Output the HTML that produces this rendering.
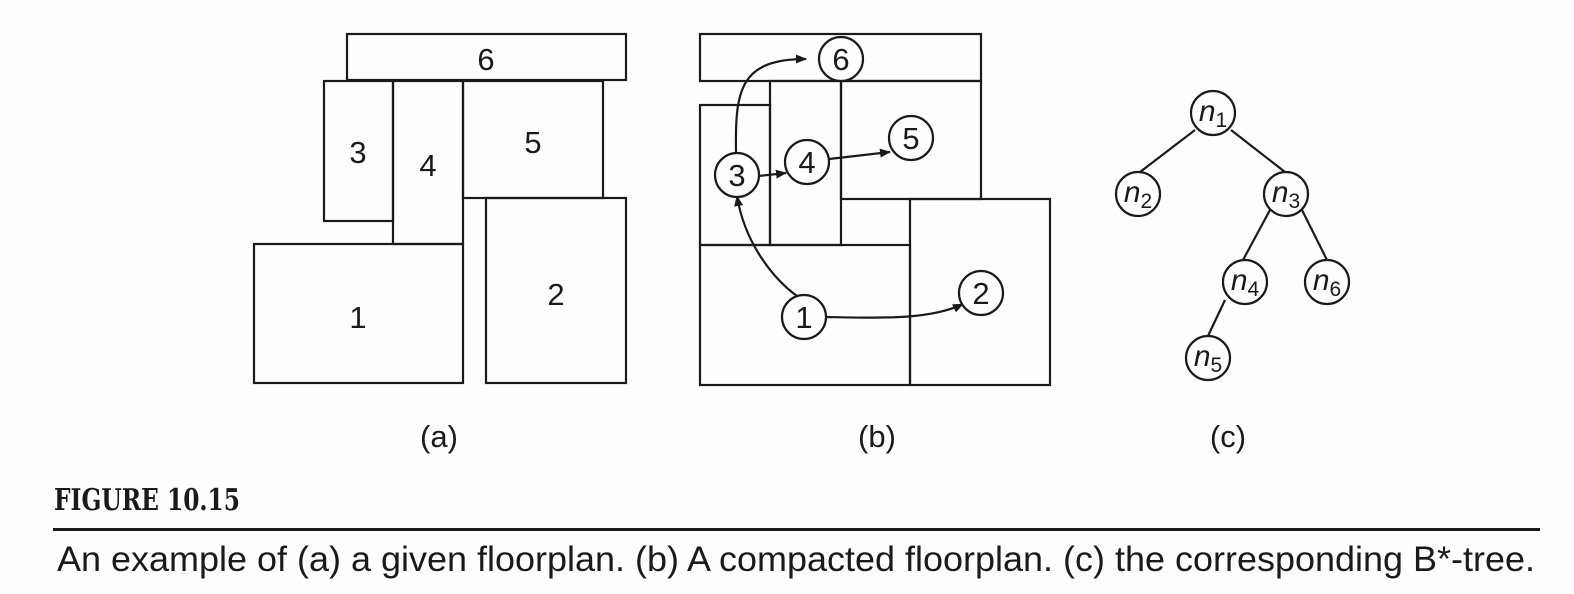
<!DOCTYPE html>
<html><head><meta charset="utf-8"><style>
html,body{margin:0;padding:0;background:#fefefe;}
svg{display:block;}
</style></head><body>
<svg width="1574" height="594" viewBox="0 0 1574 594" xmlns="http://www.w3.org/2000/svg">
<defs><marker id="ar" markerWidth="11" markerHeight="9" refX="10" refY="4.5" orient="auto" markerUnits="userSpaceOnUse"><path d="M0,0 L11,4.5 L0,9 z" fill="#1a1a1a"/></marker></defs>
<g fill="none" stroke="#1a1a1a" stroke-width="2.2">
<rect x="347" y="34" width="279" height="46"/>
<rect x="324" y="81" width="69" height="140"/>
<rect x="393" y="81" width="70" height="163"/>
<rect x="463" y="81" width="140" height="117"/>
<rect x="254" y="244" width="209" height="139"/>
<rect x="486" y="198" width="140" height="185"/>
<rect x="700" y="34" width="281" height="47"/>
<rect x="700" y="105" width="70" height="140"/>
<rect x="770" y="81" width="71" height="164"/>
<rect x="841" y="81" width="140" height="118"/>
<rect x="700" y="245" width="210" height="140"/>
<rect x="910" y="199" width="140" height="186"/>
<path d="M736,152 C735,90 740,59 806,59" marker-end="url(#ar)"/>
<path d="M759,176 L786,173" marker-end="url(#ar)"/>
<path d="M829,159 L890,152" marker-end="url(#ar)"/>
<path d="M797,296 C775,280 745,245 737,196" marker-end="url(#ar)"/>
<path d="M826,317 C880,318 930,320 963,304" marker-end="url(#ar)"/>
<path d="M1195,130 L1140,172"/>
<path d="M1231,130 L1285,172"/>
<path d="M1270,210 L1243,260"/>
<path d="M1302,210 L1327,260"/>
<path d="M1225,300 L1208,336"/>
</g>
<g fill="#fefefe" stroke="#1a1a1a" stroke-width="2.2">
<circle cx="841" cy="59" r="22"/>
<circle cx="737" cy="175" r="22"/>
<circle cx="807" cy="162" r="22"/>
<circle cx="911" cy="138" r="22"/>
<circle cx="804" cy="317" r="22"/>
<circle cx="981" cy="293" r="22"/>
<circle cx="1213" cy="113" r="22"/>
<circle cx="1138" cy="194" r="22"/>
<circle cx="1286" cy="194" r="22"/>
<circle cx="1245" cy="282" r="22"/>
<circle cx="1327" cy="282" r="22"/>
<circle cx="1208" cy="358" r="22"/>
</g>
<g font-family="Liberation Sans, sans-serif" font-size="31" fill="#1a1a1a" text-anchor="middle">
<text x="486" y="70">6</text>
<text x="358" y="163">3</text>
<text x="428" y="176">4</text>
<text x="533" y="153">5</text>
<text x="358" y="328">1</text>
<text x="556" y="305">2</text>
<text x="841" y="70">6</text>
<text x="737" y="186">3</text>
<text x="807" y="173">4</text>
<text x="911" y="149">5</text>
<text x="804" y="328">1</text>
<text x="981" y="304">2</text>
<text x="439" y="447">(a)</text>
<text x="877" y="447">(b)</text>
<text x="1228" y="447">(c)</text>
</g>
<g font-family="Liberation Sans, sans-serif" fill="#1a1a1a" font-size="30">
<text x="1213" y="121" text-anchor="middle"><tspan font-style="italic">n</tspan><tspan font-size="21" dy="6">1</tspan></text>
<text x="1138" y="202" text-anchor="middle"><tspan font-style="italic">n</tspan><tspan font-size="21" dy="6">2</tspan></text>
<text x="1286" y="202" text-anchor="middle"><tspan font-style="italic">n</tspan><tspan font-size="21" dy="6">3</tspan></text>
<text x="1245" y="290" text-anchor="middle"><tspan font-style="italic">n</tspan><tspan font-size="21" dy="6">4</tspan></text>
<text x="1327" y="290" text-anchor="middle"><tspan font-style="italic">n</tspan><tspan font-size="21" dy="6">6</tspan></text>
<text x="1208" y="366" text-anchor="middle"><tspan font-style="italic">n</tspan><tspan font-size="21" dy="6">5</tspan></text>
</g>
<text x="54" y="510" font-family="DejaVu Serif, Liberation Serif, serif" font-weight="bold" font-size="30" fill="#1a1a1a" textLength="186" lengthAdjust="spacingAndGlyphs">FIGURE 10.15</text>
<rect x="53" y="528" width="1487" height="3" fill="#1a1a1a"/>
<text x="57" y="571" font-family="Liberation Sans, sans-serif" font-size="35" fill="#1a1a1a" textLength="1478" lengthAdjust="spacingAndGlyphs">An example of (a) a given floorplan. (b) A compacted floorplan. (c) the corresponding B*-tree.</text>
</svg>
</body></html>
